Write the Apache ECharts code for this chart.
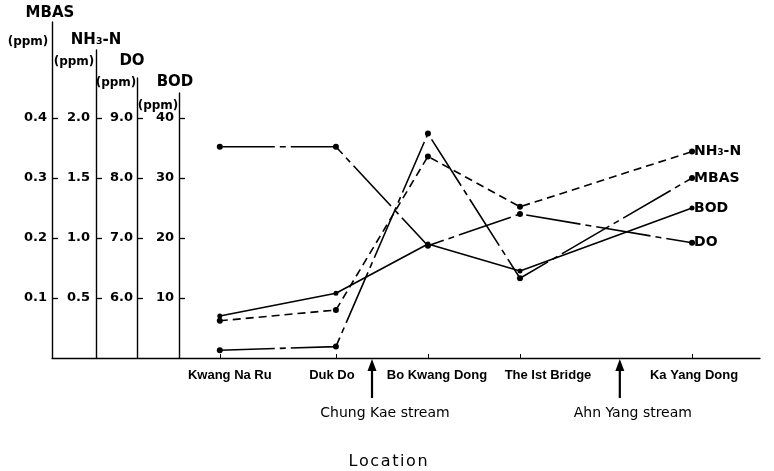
<!DOCTYPE html>
<html>
<head>
<meta charset="utf-8">
<script src="https://cdn.jsdelivr.net/npm/echarts@6/dist/echarts.min.js"></script>
<style>
html,body{margin:0;padding:0;background:#fff;}
#c{width:774px;height:471px;}
</style>
</head>
<body>
<div id="c"></div>
<script>
// ---- data ----
const locations = ['Kwang Na Ru', 'Duk Do', 'Bo Kwang Dong', 'The Ist Bridge', 'Ka Yang Dong'];
const locPos = [23.7, 40.1, 53.1, 66.1, 90.4];           // relative position along the river
const mbas = [0.013, 0.019, 0.374, 0.133, 0.300];
const nh3n = [0.31, 0.40, 1.68, 1.26, 1.72];
const dox  = [8.52, 8.52, 6.87, 7.40, 6.92];
const bod  = [7.0, 10.8, 19.0, 14.5, 25.0];
const streams = ['Chung Kae stream', 'Ahn Yang stream'];
const streamPos = [45.2, 80.2];
const mbasTicks = [0.1, 0.2, 0.3, 0.4];
const nh3Ticks = [0.5, 1.0, 1.5, 2.0];
const doTicks = [6.0, 7.0, 8.0, 9.0];
const bodTicks = [10, 20, 30, 40];

// ---- layout ----
const FONT = 'DejaVu Sans';
const CAT_FONT = 'Liberation Sans';
const baseY = 358, plotTop = 22, bottomGap = 471 - baseY;
const axisX = [52, 96, 137, 179];
const axisTop = [22, 50, 78, 93];
const pxPerUnit = [600, 120, 60, 6];
const axisMin = [0, 0, 5, 0];
const tickSets = [mbasTicks, nh3Ticks, doTicks, bodTicks];
const tickFmt = [v => v.toFixed(1), v => v.toFixed(1), v => v.toFixed(1), v => String(v)];
const labelMargin = [5, 6, 4, 5];
const catShift = [10, -4, 9, 28, 2];   // horizontal label offsets (px) as in the scan

const chart = echarts.init(document.getElementById('c'));

const catRich = {};
catShift.forEach((s, i) => {
  catRich['r' + i] = {color: '#000', fontFamily: CAT_FONT, fontWeight: 'bold', fontSize: 13,
    padding: s >= 0 ? [0, 0, 0, 2 * s] : [0, -2 * s, 0, 0]};
});

const grids = [{left: 52, right: 14, top: plotTop, bottom: bottomGap}];
const xAxes = [{
  type: 'value', gridIndex: 0, min: 0, max: 100,
  axisLine: {show: true, onZero: false, lineStyle: {color: '#000', width: 1.3}},
  axisTick: {show: true, inside: true, length: 4, customValues: locPos, lineStyle: {color: '#000'}},
  axisLabel: {
    show: true, customValues: locPos, margin: 11,
    formatter: (v) => {
      const i = locPos.indexOf(v);
      if (i < 0) return '';
      return '{r' + i + '|' + locations[i] + '}';
    },
    color: '#000', fontFamily: CAT_FONT, fontWeight: 'bold', fontSize: 13,
    rich: catRich
  },
  splitLine: {show: false}
}];
const yAxes = [];
for (let k = 0; k < 4; k++) {
  yAxes.push({
    type: 'value', gridIndex: 0, show: false,
    min: axisMin[k], max: axisMin[k] + (baseY - plotTop) / pxPerUnit[k],
    splitLine: {show: false}
  });
}
for (let k = 0; k < 4; k++) {
  grids.push({left: axisX[k], width: 10, top: axisTop[k], bottom: bottomGap});
  xAxes.push({type: 'value', gridIndex: k + 1, show: false, min: 0, max: 1});
  yAxes.push({
    type: 'value', gridIndex: k + 1,
    min: axisMin[k], max: axisMin[k] + (baseY - axisTop[k]) / pxPerUnit[k],
    axisLine: {show: true, lineStyle: {color: '#000', width: 1.4}},
    axisTick: {show: true, inside: true, length: 6, customValues: tickSets[k], lineStyle: {color: '#000', width: 1.3}},
    axisLabel: {show: true, customValues: tickSets[k], formatter: tickFmt[k], margin: labelMargin[k],
      color: '#000', fontFamily: FONT, fontSize: 13, fontWeight: 'bold'},
    splitLine: {show: false}
  });
}

function mk(name, vals, yIdx, lineType, endName, symSize) {
  return {
    name: name, type: 'line', xAxisIndex: 0, yAxisIndex: yIdx,
    data: locPos.map((x, i) => [x, vals[i]]),
    symbol: 'circle', symbolSize: symSize, showSymbol: true,
    lineStyle: {color: '#000', width: 1.6, type: lineType},
    itemStyle: {color: '#000'},
    endLabel: {show: true, formatter: endName, distance: 2, color: '#000',
      fontFamily: FONT, fontSize: 14, fontWeight: 'bold'},
    emphasis: {disabled: true}
  };
}

const nameTexts = [
  ['MBAS', 50, 13, 15], ['(ppm)', 28, 42, 12],
  ['NH₃-N', 96, 40, 15], ['(ppm)', 74, 62, 12],
  ['DO', 132, 61, 15], ['(ppm)', 116, 83, 12],
  ['BOD', 175, 82, 15], ['(ppm)', 158, 106, 12]
];

chart.setOption({
  animation: false,
  backgroundColor: '#fff',
  grid: grids,
  xAxis: xAxes,
  yAxis: yAxes,
  series: [
    mk('MBAS', mbas, 0, [55, 5, 6, 5], 'MBAS', 6),
    mk('NH3-N', nh3n, 1, [8, 5], 'NH₃-N', 6),
    mk('DO', dox, 2, [55, 5, 6, 5], 'DO', 6),
    mk('BOD', bod, 3, 'solid', 'BOD', 5)
  ]
});

const g = nameTexts.map(t => ({
  type: 'text', x: t[1], y: t[2],
  style: {text: t[0], fill: '#000', font: 'bold ' + t[3] + 'px "' + FONT + '"', textAlign: 'center', textVerticalAlign: 'middle'}
}));
streams.forEach((s, i) => {
  const x = chart.convertToPixel({xAxisIndex: 0}, streamPos[i]);
  g.push({type: 'line', shape: {x1: x, y1: 398, x2: x, y2: 366}, style: {stroke: '#000', lineWidth: 2.2}});
  g.push({type: 'polygon', shape: {points: [[x - 4.5, 371], [x + 4.5, 371], [x, 359]]}, style: {fill: '#000'}});
  g.push({type: 'text', x: x + 13, y: 413,
    style: {text: s, fill: '#000', font: '14px "' + FONT + '"', textAlign: 'center', textVerticalAlign: 'middle'}});
});
g.push({type: 'text', x: 388, y: 462,
  style: {text: 'L o c a t i o n'.replace(/ /g, '\u200A'), fill: '#000', font: '16px "' + FONT + '"', textAlign: 'center', textVerticalAlign: 'middle'}});
chart.setOption({graphic: g});
</script>
</body>
</html>
